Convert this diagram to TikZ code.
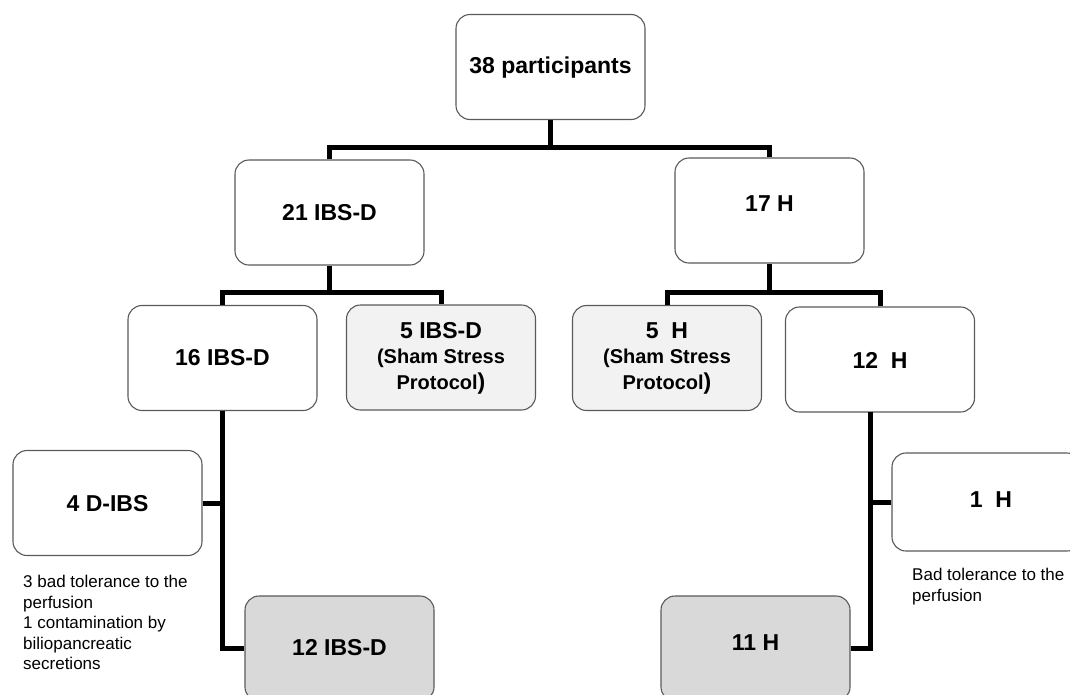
\documentclass[tikz,border=0pt]{standalone}
\usepackage{fontspec}
\setmainfont{Liberation Sans}
\definecolor{boxline}{HTML}{5A5A5A}
\definecolor{shamfill}{HTML}{F2F2F2}
\definecolor{finalfill}{HTML}{D9D9D9}
\begin{document}
\begin{tikzpicture}[x=1pt,y=-1pt,
  box/.style={draw=boxline, line width=1.1pt, rounded corners=14pt, minimum width=189pt, minimum height=105pt, inner sep=0pt, fill=white},
  sham/.style={box, fill=shamfill},
  final/.style={box, fill=finalfill},
  conn/.style={line width=5pt, draw=black},
  lbl/.style={font=\bfseries\fontsize{23}{26}\selectfont, inner sep=0pt},
  shamlbl/.style={font=\bfseries\fontsize{20}{25.5}\selectfont, inner sep=0pt, align=center},
  note/.style={font=\fontsize{17}{20.5}\selectfont, align=left, inner sep=0pt, anchor=north west}]
\clip (0,0) rectangle (1070,694);
\fill[white] (0,0) rectangle (1070,694);
% boxes
\node[box] (top) at (550.5,67) {};
\node[box] (b21) at (329.5,212.5) {};
\node[box] (h17) at (769.5,210.5) {};
\node[box] (b16) at (222.5,358) {};
\node[sham] (s5i) at (441,357.5) {};
\node[sham] (s5h) at (667,358) {};
\node[box] (h12) at (880,359.5) {};
\node[box] (d4) at (107.5,503) {};
\node[box, minimum height=98pt] (h1) at (986.5,502) {};
\node[final] (b12) at (339.5,648.5) {};
\node[final] (h11) at (755.5,648.5) {};
% labels
\node[lbl] (t38) at (550.5,68) {38 participants};
\node[lbl] (t21) at (329.5,213) {21 IBS-D};
\node[lbl] (t17) at (769.5,204) {17 H};
\node[lbl] (t16) at (222.5,358) {16 IBS-D};
\node[shamlbl] (ts5i) at (441,358) {{\fontsize{23}{25.5}\selectfont 5 IBS-D}\\(Sham Stress\\Protocol{\fontsize{23}{25.5}\selectfont )}};
\node[shamlbl] (ts5h) at (667,358) {{\fontsize{23}{25.5}\selectfont 5\ \ H}\\(Sham Stress\\Protocol{\fontsize{23}{25.5}\selectfont )}};
\node[lbl] (t12h) at (880,360) {12\ \ H};
\node[lbl] (t4) at (107.5,504) {4 D-IBS};
\node[lbl] (t1) at (991,500) {1\ \ H};
\node[lbl] (t12) at (339.5,648) {12 IBS-D};
\node[lbl] (t11) at (755.5,643) {11 H};
% notes
\node[note] (n1) at (23,575) {3 bad tolerance to the\\perfusion\\1 contamination by\\biliopancreatic\\secretions};
\node[note] (n2) at (912,568) {Bad tolerance to the\\perfusion};
% connectors
\coordinate (j1) at (550.5,147);
\coordinate (j2) at (331,292);
\coordinate (j3) at (769.5,292);
\coordinate (tr) at (870,412);
\draw[conn] (top.south) -- (j1);
\draw[conn] (b21.north) |- (j1);
\draw[conn] (h17.north) |- (j1);
\draw[conn] (b21.south) -- (b21.south |- j2);
\draw[conn] (b16.north) |- (j2);
\draw[conn] (s5i.north) |- (j2);
\draw[conn] (h17.south) -- (j3);
\draw[conn] (s5h.north) |- (j3);
\draw[conn] (h12.north) |- (j3);
\draw[conn] (b16.south) |- (b12.west);
\draw[conn] (d4.east) -- (d4.east -| b16.south);
\draw[conn] (tr) |- (h11.east);
\draw[conn] (h1.west) -- (h1.west -| tr);
\end{tikzpicture}
\end{document}
